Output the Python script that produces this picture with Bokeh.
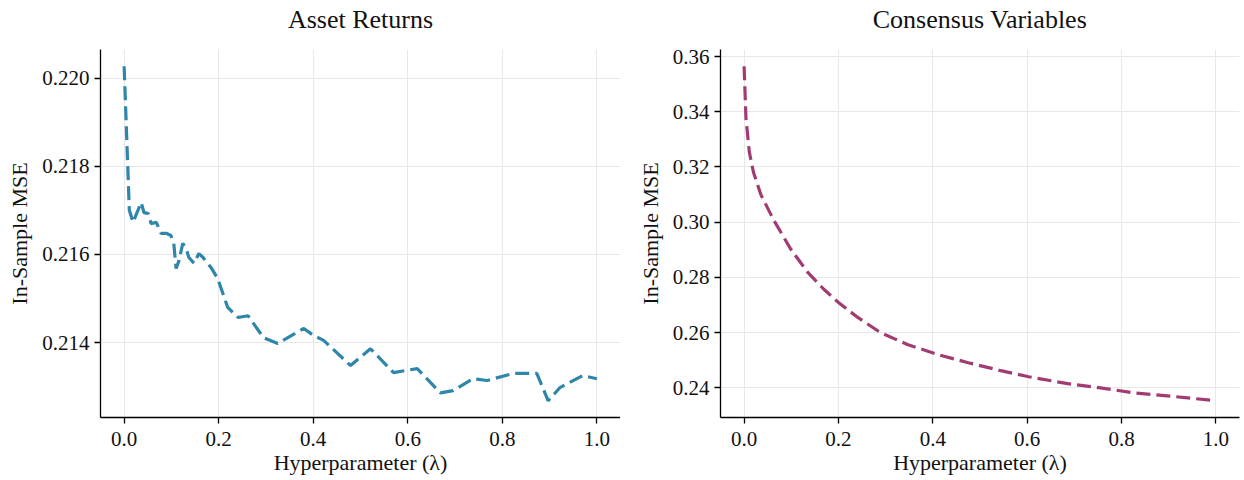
from bokeh.plotting import figure
from bokeh.layouts import row
from bokeh.models import Range1d, FixedTicker, PrintfTickFormatter
from bokeh.embed import file_html
from bokeh.resources import INLINE

# ---- data ----
lam_asset = [0.000, 0.011, 0.019, 0.036, 0.042, 0.051, 0.057, 0.068, 0.078, 0.089,
             0.099, 0.105, 0.110, 0.116, 0.124, 0.131, 0.137, 0.148, 0.158, 0.167,
             0.184, 0.198, 0.219, 0.241, 0.262, 0.295, 0.325, 0.380, 0.401, 0.422,
             0.479, 0.521, 0.570, 0.620, 0.669, 0.696, 0.738, 0.768, 0.823, 0.873,
             0.897, 0.922, 0.970, 1.000]
mse_asset = [0.22027, 0.21700, 0.21673, 0.21718, 0.21695, 0.21693, 0.21670, 0.21673, 0.21648, 0.21648,
             0.21643, 0.21625, 0.21568, 0.21586, 0.21625, 0.21614, 0.21593, 0.21580, 0.21602, 0.21593,
             0.21570, 0.21545, 0.21480, 0.21457, 0.21461, 0.21411, 0.21398, 0.21432, 0.21416, 0.21405,
             0.21348, 0.21386, 0.21332, 0.21341, 0.21286, 0.21291, 0.21318, 0.21314, 0.21330, 0.21330,
             0.21268, 0.21298, 0.21325, 0.21318]

lam_cons = [0.000, 0.004, 0.011, 0.020, 0.036, 0.063, 0.099, 0.135, 0.169, 0.200,
            0.241, 0.289, 0.346, 0.411, 0.475, 0.544, 0.603, 0.686, 0.755, 0.825,
            0.897, 1.000]
mse_cons = [0.3565, 0.3376, 0.3255, 0.3180, 0.3098, 0.3007, 0.2902, 0.2818, 0.2757, 0.2709,
            0.2655, 0.2600, 0.2557, 0.2520, 0.2491, 0.2462, 0.2440, 0.2415, 0.2400, 0.2382,
            0.2371, 0.2353]

x_ticks = [0.0, 0.2, 0.4, 0.6, 0.8, 1.0]
y_ticks_asset = [0.214, 0.216, 0.218, 0.220]
y_ticks_cons = [0.24, 0.26, 0.28, 0.30, 0.32, 0.34, 0.36]

titles = ["Asset Returns", "Consensus Variables"]
x_label = "Hyperparameter (λ)"
y_label = "In-Sample MSE"
colors = ["#2E86AB", "#A23B72"]

FONT = "Liberation Serif"
SHIFT = 10


def make_fig(title, xs, ys, color, yticks, yfmt, width, border_left, border_right):
    lo, hi = min(ys), max(ys)
    pad = (hi - lo) * 0.05
    p = figure(width=width, height=480 + SHIFT, output_backend="svg", toolbar_location=None,
               x_range=Range1d(-0.05, 1.05), y_range=Range1d(lo - pad, hi + pad),
               min_border_left=border_left, min_border_right=border_right,
               min_border_top=0, min_border_bottom=63)
    p.title.text = title
    p.title.align = "center"
    p.title.vertical_align = "top"
    p.title.text_font = FONT
    p.title.text_font_size = "26px"
    p.title.text_font_style = "normal"
    p.title.text_color = "#111111"
    p.title.standoff = 28
    p.outline_line_color = None
    p.background_fill_color = "white"
    p.border_fill_color = "white"

    p.line(xs, ys, line_color=color, line_width=3.2, line_dash="14 6")

    for ax in (p.xaxis[0], p.yaxis[0]):
        ax.axis_line_color = "black"
        ax.axis_line_width = 1.3
        ax.major_tick_line_color = "black"
        ax.major_tick_line_width = 1.3
        ax.major_tick_out = 6
        ax.major_tick_in = 0
        ax.minor_tick_line_color = None
        ax.major_label_text_font = FONT
        ax.major_label_text_font_size = "21px"
        ax.major_label_text_color = "#111111"
        ax.axis_label_text_font = FONT
        ax.axis_label_text_font_size = "22px"
        ax.axis_label_text_font_style = "normal"
        ax.axis_label_text_color = "#111111"
    p.xaxis.major_label_standoff = 8
    p.xaxis.axis_label_standoff = 1
    p.yaxis.major_label_standoff = 5
    p.yaxis.axis_label_standoff = 7

    p.xaxis.axis_label = x_label
    p.yaxis.axis_label = y_label
    p.xaxis.ticker = FixedTicker(ticks=x_ticks)
    p.xaxis.formatter = PrintfTickFormatter(format="%.1f")
    p.yaxis.ticker = FixedTicker(ticks=yticks)
    p.yaxis.formatter = PrintfTickFormatter(format=yfmt)

    p.xgrid.ticker = FixedTicker(ticks=x_ticks)
    p.ygrid.ticker = FixedTicker(ticks=yticks)
    p.grid.grid_line_color = "#e8e8e8"
    p.grid.grid_line_width = 1
    return p


p1 = make_fig(titles[0], lam_asset, mse_asset, colors[0], y_ticks_asset, "%.3f", 620, 100, 0)
p2 = make_fig(titles[1], lam_cons, mse_cons, colors[1], y_ticks_cons, "%.2f", 624, 100, 5)

layout = row(p1, p2, margin=(-SHIFT, 0, 0, 0))
open("out.html", "w").write(file_html(layout, INLINE))
